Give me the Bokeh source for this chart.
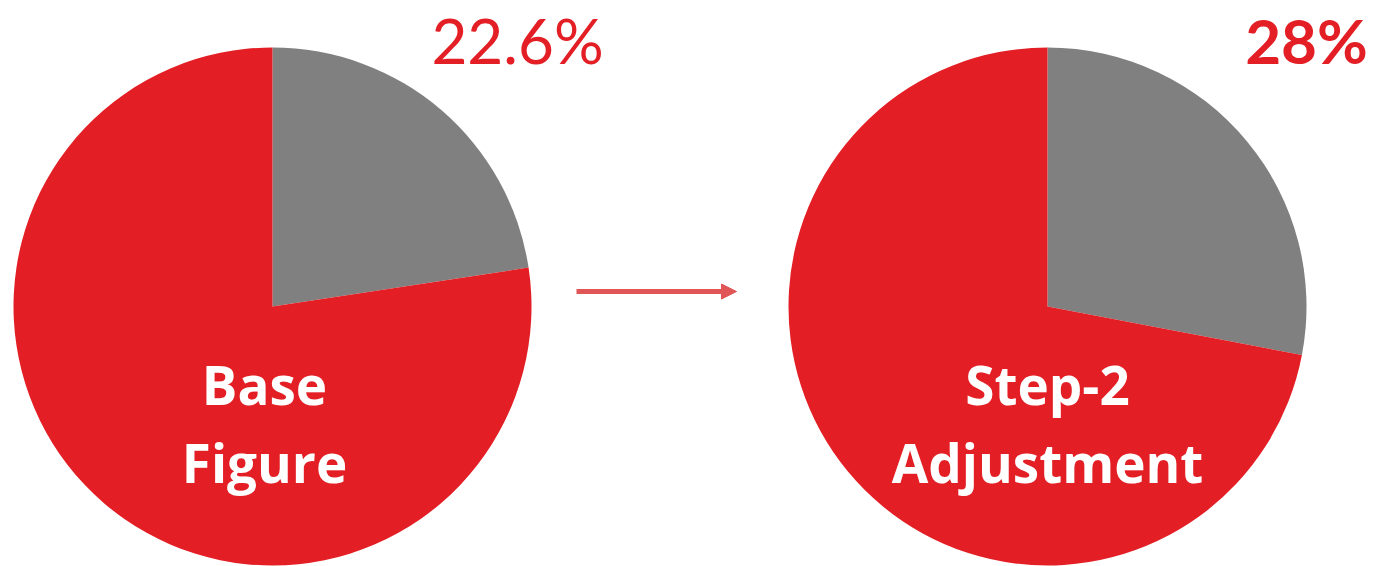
from bokeh.plotting import figure
from bokeh.models import Range1d, Arrow, NormalHead
from bokeh.core.properties import value
from bokeh.embed import file_html
from bokeh.resources import INLINE

# data
names = ["Base\nFigure", "Step-2\nAdjustment"]
share_pct = [22.6, 28.0]
share_labels = ["22.6%", "28%"]
label_styles = ["normal", "bold"]

RED = "#E31E24"
GRAY = "#808080"
ARROW = "#E05656"

W, H = 1376, 566
p = figure(width=W, height=H, output_backend="svg", toolbar_location=None,
           x_range=Range1d(0, W), y_range=Range1d(0, H),
           min_border=0, outline_line_color=None)
p.axis.visible = False
p.grid.visible = False
p.background_fill_color = "white"
p.border_fill_color = "white"

centers_x = [272, 1047]
text_dx = [-8, 0]
label_x = [517, 1306]
center_y = 566 - 306
radius = 259

for cx, dx, pct, name in zip(centers_x, text_dx, share_pct, names):
    sweep = pct * 3.6
    # grey share: clockwise from 12 o'clock
    p.wedge(x=cx, y=center_y, radius=radius, start_angle=90 - sweep, end_angle=90,
            start_angle_units="deg", end_angle_units="deg",
            fill_color=GRAY, line_color=None)
    p.wedge(x=cx, y=center_y, radius=radius, start_angle=90, end_angle=90 - sweep + 360,
            start_angle_units="deg", end_angle_units="deg",
            fill_color=RED, line_color=None)
    lines = name.split("\n")
    for i, ln in enumerate(lines):
        p.text(x=[cx + dx], y=[566 - 405 + 21 - 78 * i], text=[ln],
               text_font=value("Open Sans"), text_font_style="bold",
               text_font_size="53px", text_color="white",
               text_align="center", text_baseline="alphabetic")

for lx, lab, style in zip(label_x, share_labels, label_styles):
    p.text(x=[lx], y=[566 - 64 + 25], text=[lab], text_font=value("Lato"),
           text_font_style=style, text_font_size="62px", text_color=RED,
           text_align="center", text_baseline="alphabetic")

p.add_layout(Arrow(x_start=576, y_start=566 - 291, x_end=736, y_end=566 - 291,
                   line_color=ARROW, line_width=5,
                   end=NormalHead(size=15, fill_color=ARROW, line_color=ARROW)))

open("out.html", "w").write(file_html(p, INLINE))
